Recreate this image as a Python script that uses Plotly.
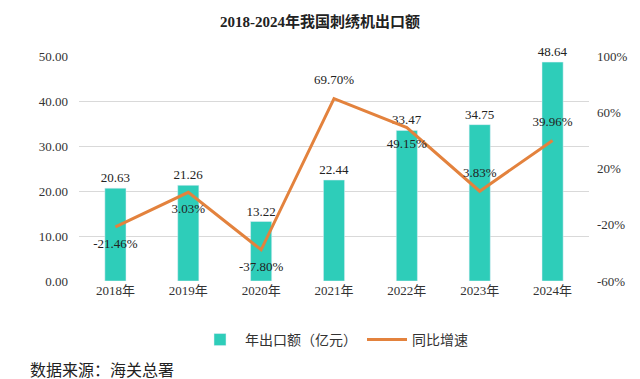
import plotly.graph_objects as go

years = ["2018年", "2019年", "2020年", "2021年", "2022年", "2023年", "2024年"]
export_value = [20.63, 21.26, 13.22, 22.44, 33.47, 34.75, 48.64]
growth = [-21.46, 3.03, -37.80, 69.70, 49.15, 3.83, 39.96]
growth_pos = ["bottom center", "bottom center", "bottom center", "top center",
              "bottom center", "top center", "top center"]
left_ticks = [0, 10, 20, 30, 40, 50]
right_ticks = [-60, -20, 20, 60, 100]

FONT = "Liberation Serif, Noto Sans CJK SC, serif"
TEAL = "#2ECDB9"
ORANGE = "#E3823D"

fig = go.Figure()
fig.add_trace(go.Bar(
    x=years, y=export_value, name="年出口额（亿元）",
    marker=dict(color=TEAL), width=0.29,
    text=[f"{v:.2f}" for v in export_value], textposition="outside",
    textfont=dict(family=FONT, size=13, color="#222"), cliponaxis=False,
))
fig.add_trace(go.Scatter(
    x=years, y=growth, name="同比增速", yaxis="y2", mode="lines+markers+text",
    line=dict(color=ORANGE, width=3),
    marker=dict(size=16, color="rgba(0,0,0,0)"),
    text=[f"{v:.2f}%" for v in growth], textposition=growth_pos,
    textfont=dict(family=FONT, size=13, color="#222"), cliponaxis=False,
))

fig.update_layout(
    width=640, height=379,
    margin=dict(l=79, r=49, t=56, b=98),
    paper_bgcolor="white", plot_bgcolor="white",
    uniformtext=dict(minsize=13, mode="show"),
    title=dict(text="<b>2018-2024年我国刺绣机出口额</b>", x=0.5, xanchor="center",
               y=1 - 22 / 379, yanchor="middle",
               font=dict(family=FONT, size=15, color="#222")),
    font=dict(family=FONT, size=13, color="#333"),
    xaxis=dict(tickfont=dict(family=FONT, size=13, color="#333"), showgrid=False,
               showline=False, ticks=""),
    yaxis=dict(range=[0, 50], tickvals=left_ticks,
               ticktext=[f"{v:.2f}" for v in left_ticks],
               showgrid=True, gridcolor="#D9D9D9", gridwidth=1, zeroline=False,
               showline=False, ticks="", ticklabelstandoff=10,
               tickfont=dict(family=FONT, size=13, color="#333")),
    yaxis2=dict(range=[-60, 100], tickvals=right_ticks,
                ticktext=[f"{v}%" for v in right_ticks],
                overlaying="y", side="right", showgrid=False, zeroline=False,
                showline=False, ticks="", ticklabelstandoff=7,
                tickfont=dict(family=FONT, size=13, color="#333")),
    legend=dict(orientation="h", x=0.5, xanchor="center", y=-0.262, yanchor="middle",
                font=dict(family=FONT, size=14, color="#333"), itemwidth=40,
                traceorder="normal"),
    annotations=[dict(text="数据来源：海关总署", xref="paper", yref="paper",
                      x=-0.1, y=-0.396, xanchor="left", yanchor="middle",
                      showarrow=False,
                      font=dict(family=FONT, size=16, color="#222"))],
)

fig.write_html("out.html", config={"displayModeBar": False},
               post_script="document.body.style.margin='0';document.body.style.overflow='hidden';")
